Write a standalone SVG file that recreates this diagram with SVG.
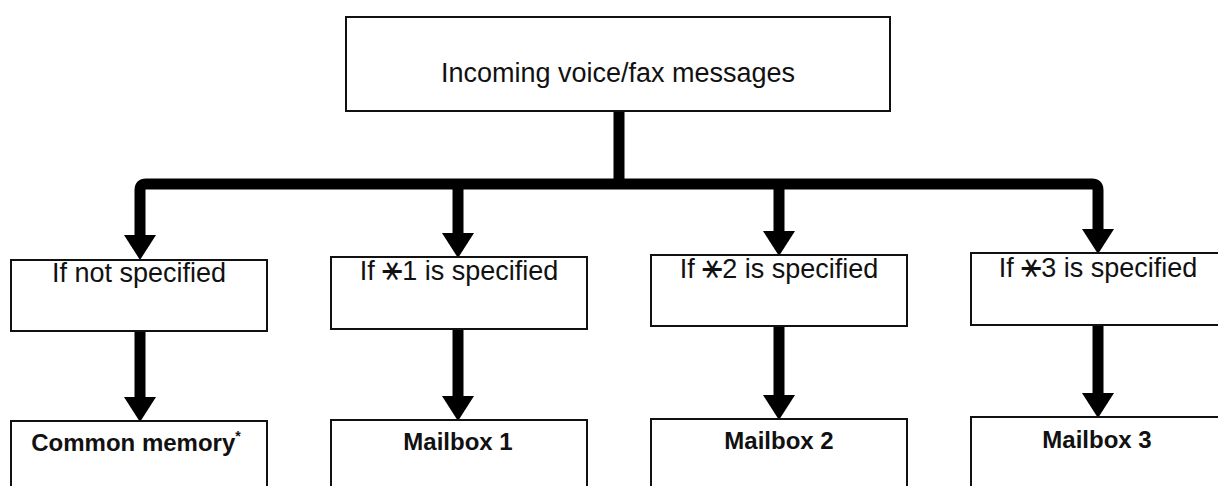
<svg xmlns="http://www.w3.org/2000/svg" width="1218" height="486" viewBox="0 0 1218 486">
<style>
.box{fill:#fff;stroke:#111;stroke-width:2}
.t{font-family:"Liberation Sans",Arial,sans-serif;font-size:27px;fill:#111;text-anchor:middle}
.b{font-weight:bold;font-size:24px}
.shaft{fill:none;stroke:#000;stroke-width:11}
.head{fill:#000}
.star{font-family:"DejaVu Sans",sans-serif;font-size:34px}
</style>
<rect width="1218" height="486" fill="#fff"/>
<g id="connectors">
<path class="shaft" d="M619,111 V184"/>
<path class="shaft" d="M140,238 V190 Q140,184 146,184 H1092 Q1098,184 1098,190 V232" stroke-linejoin="round"/>
<path class="shaft" d="M458,184 V236"/>
<path class="shaft" d="M779,184 V234"/>
<polygon class="head" points="124,235 156,235 140,260"/>
<polygon class="head" points="442,233 474,233 458,258"/>
<polygon class="head" points="763,231 795,231 779,256"/>
<polygon class="head" points="1082,229 1114,229 1098,254"/>
<path class="shaft" d="M140,331 V400"/>
<path class="shaft" d="M458,329 V398"/>
<path class="shaft" d="M779,326 V396"/>
<path class="shaft" d="M1098,325 V395"/>
<polygon class="head" points="124,397 156,397 140,422"/>
<polygon class="head" points="442,396 474,396 458,421"/>
<polygon class="head" points="763,395 795,395 779,420"/>
<polygon class="head" points="1082,393 1114,393 1098,418"/>
</g>
<g id="top"><rect class="box" x="346" y="17" width="544" height="94"/><text class="t" x="618" y="82">Incoming voice/fax messages</text></g>
<g id="c0"><rect class="box" x="11" y="260" width="256" height="71"/><text class="t" x="139" y="282">If not specified</text></g>
<g id="c1"><rect class="box" x="331" y="257" width="256" height="72"/><text class="t" x="459" y="280">If <tspan class="star">⚹</tspan>1 is specified</text></g>
<g id="c2"><rect class="box" x="651" y="255" width="256" height="71"/><text class="t" x="779" y="278">If <tspan class="star">⚹</tspan>2 is specified</text></g>
<g id="c3"><rect class="box" x="971" y="253" width="260" height="72"/><text class="t" x="1098" y="277">If <tspan class="star">⚹</tspan>3 is specified</text></g>
<g id="m0"><rect class="box" x="11" y="421" width="256" height="80"/><text class="t b" x="136" y="451">Common memory<tspan font-size="14" dy="-10">*</tspan></text></g>
<g id="m1"><rect class="box" x="331" y="420" width="256" height="80"/><text class="t b" x="458" y="450">Mailbox 1</text></g>
<g id="m2"><rect class="box" x="651" y="419" width="256" height="80"/><text class="t b" x="779" y="449">Mailbox 2</text></g>
<g id="m3"><rect class="box" x="971" y="417" width="260" height="80"/><text class="t b" x="1097" y="448">Mailbox 3</text></g>
</svg>
